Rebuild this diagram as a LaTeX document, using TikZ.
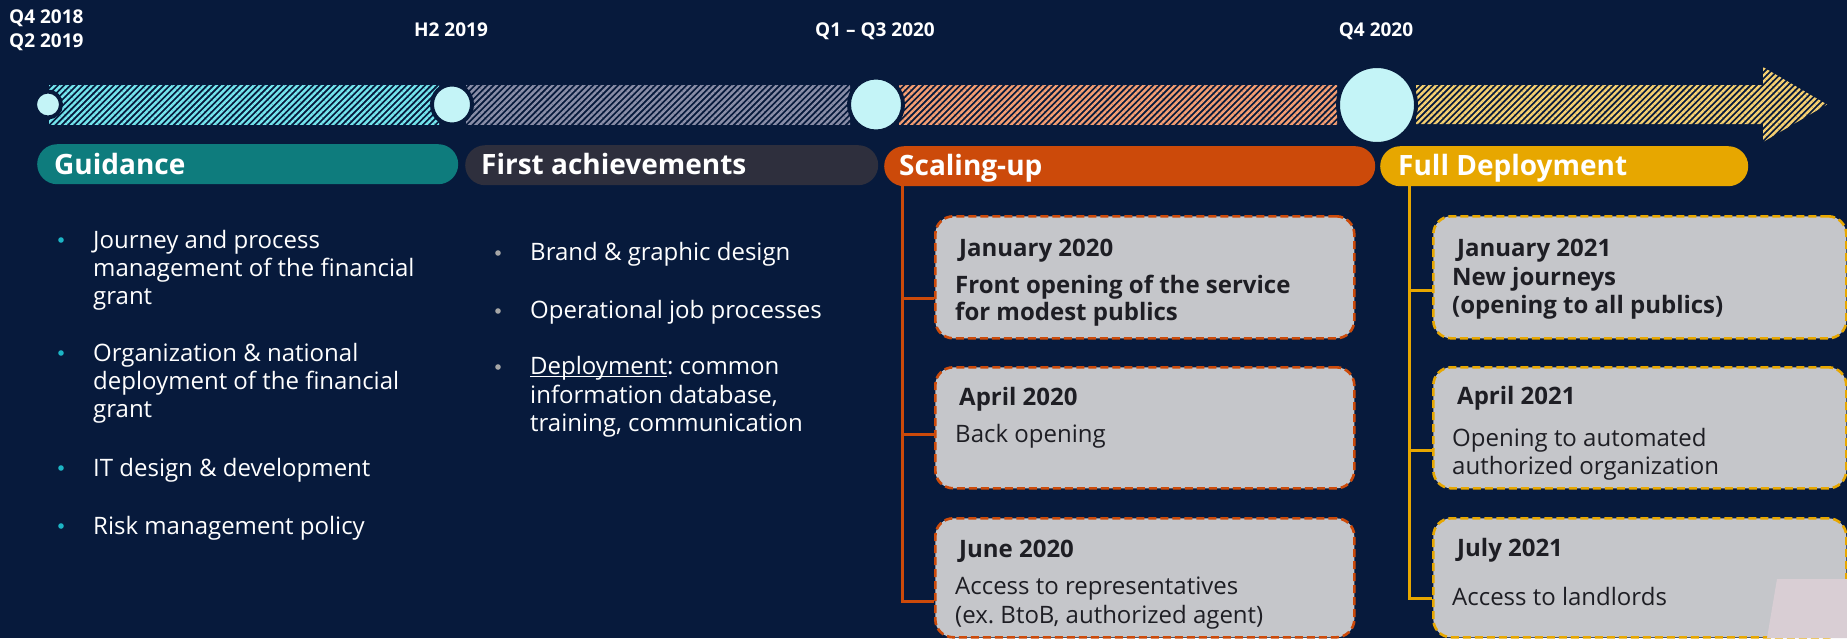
\documentclass[tikz,border=0pt]{standalone}
\usepackage{fontspec}
\setmainfont{Open Sans}
\usetikzlibrary{patterns.meta}
\frenchspacing
\definecolor{bg}{HTML}{071A3C}
\definecolor{tealS}{HTML}{74E6EE}
\definecolor{grayS}{HTML}{8A8EA8}
\definecolor{orngS}{HTML}{F59E72}
\definecolor{yellS}{HTML}{F6D070}
\definecolor{circc}{HTML}{C4F4F7}
\definecolor{guid}{HTML}{0E7C7D}
\definecolor{firstc}{HTML}{2E2F3D}
\definecolor{orng}{HTML}{CC4A0A}
\definecolor{yell}{HTML}{E7A700}
\definecolor{boxc}{HTML}{C5C6CA}
\definecolor{boxtxt}{HTML}{1E1E24}
\definecolor{bulc}{HTML}{1CB5C5}
\definecolor{bulg}{HTML}{A6A6A6}
\definecolor{pinkc}{HTML}{D9CED4}
\newcommand\ulword[1]{\setbox0\hbox{#1}\rlap{\rule[-3pt]{\wd0}{1.2pt}}#1}
\tikzset{
 datelbl/.style={text=white, inner sep=0, font=\fontsize{19}{23}\selectfont\bfseries},
 headtxt/.style={text=white, inner sep=0, anchor=base west, font=\fontsize{28}{32}\selectfont\bfseries},
 phasebar/.style={rectangle, rounded corners=20pt, inner sep=0, minimum height=40pt, anchor=north west},
 circ/.style={circle, fill=circc, draw=bg, line width=4pt, inner sep=0},
 evbox/.style={rectangle, rounded corners=18pt, fill=boxc, line width=2.6pt, dash pattern=on 8pt off 4pt, inner sep=0, anchor=north west},
 obox/.style={evbox, draw=orng, minimum width=419pt},
 ybox/.style={evbox, draw=yell, minimum width=413pt},
 boxtitle/.style={text=boxtxt, inner sep=0, anchor=base west, font=\fontsize{24}{28}\selectfont\bfseries},
 boxbody/.style={text=boxtxt, inner sep=0, anchor=base west, font=\fontsize{24}{28}\selectfont},
 listtxt/.style={text=white, inner sep=0, anchor=base west, font=\fontsize{24}{28}\selectfont},
 oconn/.style={draw=orng, line width=3pt},
 yconn/.style={draw=yell, line width=3pt},
 stripes/.style={pattern={Lines[angle=45,distance=4.4pt,line width=2.4pt]}},
}
\begin{document}
\begin{tikzpicture}[x=1pt,y=-1pt]
\useasboundingbox (0,0) rectangle (1847,638);
\clip (0,0) rectangle (1847,638);
\fill[bg] (0,0) rectangle (1847,638);

% date labels
\node[datelbl, anchor=base west] (dq4a) at (9,23) {Q4 2018};
\node[datelbl, anchor=base west] (dq2) at (9,47) {Q2 2019};
\node[datelbl, anchor=base] (dh2) at (451,36) {H2 2019};
\node[datelbl, anchor=base] (dq13) at (875,36) {Q1 – Q3 2020};
\node[datelbl, anchor=base] (dq4b) at (1376,36) {Q4 2020};

% timeline stripes
\fill[stripes, pattern color=tealS] (49,85) rectangle (439,124);
\fill[stripes, pattern color=grayS] (466,85) rectangle (850,124);
\fill[stripes, pattern color=orngS] (899,85) rectangle (1337,124);
\fill[stripes, pattern color=yellS] (1416,85) -- (1763,85) -- (1763,67) -- (1827,104.5) -- (1763,142) -- (1763,124) -- (1416,124) -- cycle;

% milestones
\node[circ, minimum size=26pt] (c1) at (48,104.5) {};
\node[circ, minimum size=40pt] (c2) at (452,104.5) {};
\node[circ, minimum size=54pt] (c3) at (876,104.5) {};
\node[circ, minimum size=78pt] (c4) at (1377,105) {};

% phase bars
\node[phasebar, fill=guid, minimum width=421pt] (pguid) at (37,144) {};
\node[phasebar, fill=firstc, minimum width=413pt] (pfirst) at (465,145) {};
\node[phasebar, fill=orng, minimum width=491pt] (pscale) at (884,146) {};
\node[phasebar, fill=yell, minimum width=368pt] (pfull) at (1380,146) {};
\node[headtxt] (hguid) at (54,174) {Guidance};
\node[headtxt] (hfirst) at (481,174) {First achievements};
\node[headtxt] (hscale) at (899,175) {Scaling-up};
\node[headtxt] (hfull) at (1398,175) {Full Deployment};

% left list
\foreach \yy in {240,353,468,526} \fill[bulc] (61,\yy) circle (2.8);
\node[listtxt] (l1a) at (93,248) {Journey and process};
\node[listtxt] (l1b) at (93,276) {management of the financial};
\node[listtxt] (l1c) at (93,304) {grant};
\node[listtxt] (l2a) at (93,361) {Organization \& national};
\node[listtxt] (l2b) at (93,389) {deployment of the financial};
\node[listtxt] (l2c) at (93,417) {grant};
\node[listtxt] (l3) at (93,476) {IT design \& development};
\node[listtxt] (l4) at (93,534) {Risk management policy};

% middle list
\foreach \yy in {253,311,367} \fill[bulg] (498,\yy) circle (2.8);
\node[listtxt] (m1) at (530,260) {Brand \& graphic design};
\node[listtxt] (m2) at (530,318) {Operational job processes};
\node[listtxt] (m3a) at (530,374) {\ulword{Deployment}: common};
\node[listtxt] (m3b) at (530,403) {information database,};
\node[listtxt] (m3c) at (530,431) {training, communication};

% scaling-up boxes
\node[obox, minimum height=122pt] (o1) at (934,215) {};
\node[obox, minimum height=121pt] (o2) at (934,366) {};
\node[obox, minimum height=119pt] (o3) at (934,517) {};
\coordinate (ostem) at ([xshift=18pt]pscale.south west);
\coordinate (ob1) at ([yshift=-21pt]o1.west);
\coordinate (ob2) at ([yshift=-6.5pt]o2.west);
\coordinate (ob3) at ([yshift=-23.5pt]o3.west);
\draw[oconn] (ostem) -- (ostem |- ob3) -- (ob3);
\draw[oconn] (ostem |- ob1) -- (ob1);
\draw[oconn] (ostem |- ob2) -- (ob2);
\node[boxtitle] (o1t) at (959,256) {January 2020};
\node[boxtitle] (o1a) at (955,293) {Front opening of the service};
\node[boxtitle] (o1b) at (955,320) {for modest publics};
\node[boxtitle] (o2t) at (959,405) {April 2020};
\node[boxbody] (o2a) at (955,442) {Back opening};
\node[boxtitle] (o3t) at (959,557) {June 2020};
\node[boxbody] (o3a) at (955,594) {Access to representatives};
\node[boxbody] (o3b) at (955,623) {(ex. BtoB, authorized agent)};

% full deployment boxes
\node[ybox, minimum height=122pt] (y1) at (1432,215) {};
\node[ybox, minimum height=121pt] (y2) at (1432,366) {};
\node[ybox, minimum height=119pt] (y3) at (1432,517) {};
\fill[pinkc] (1777,579) -- (1847,579) -- (1847,638) -- (1767,638) -- cycle;
\coordinate (ystem) at ([xshift=29pt]pfull.south west);
\coordinate (yb1) at ([yshift=-13pt]y1.west);
\coordinate (yb2) at ([yshift=-22.5pt]y2.west);
\coordinate (yb3) at ([yshift=-20.5pt]y3.west);
\draw[yconn] (ystem) -- (ystem |- yb3) -- (yb3);
\draw[yconn] (ystem |- yb1) -- (yb1);
\draw[yconn] (ystem |- yb2) -- (yb2);
\node[boxtitle] (y1t) at (1457,256) {January 2021};
\node[boxtitle] (y1a) at (1452,285) {New journeys};
\node[boxtitle] (y1b) at (1452,313) {(opening to all publics)};
\node[boxtitle] (y2t) at (1457,404) {April 2021};
\node[boxbody] (y2a) at (1452,446) {Opening to automated};
\node[boxbody] (y2b) at (1452,474) {authorized organization};
\node[boxtitle] (y3t) at (1457,556) {July 2021};
\node[boxbody] (y3a) at (1452,605) {Access to landlords};
\end{tikzpicture}
\end{document}
